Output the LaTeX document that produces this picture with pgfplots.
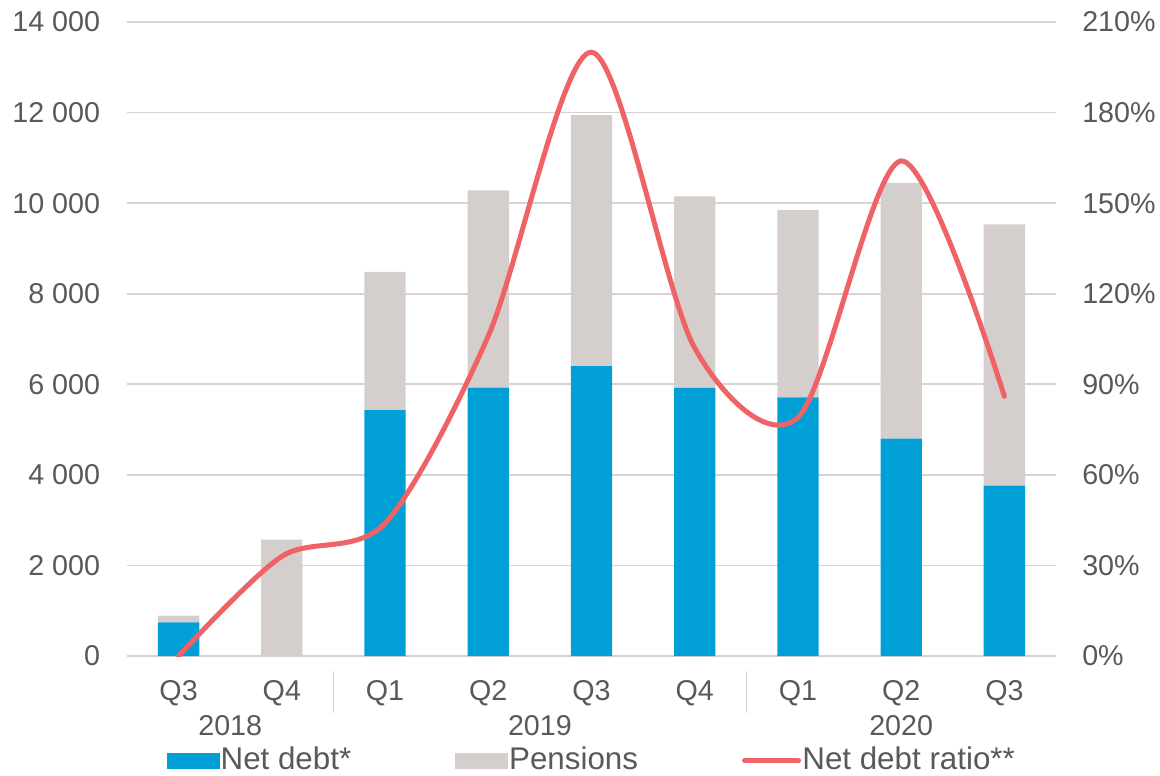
\documentclass[border=0pt]{standalone}
\usepackage{fontspec}
\setmainfont{Liberation Sans}
\usepackage{pgfplots}
\pgfplotsset{compat=1.18}
\definecolor{netblue}{RGB}{0,160,214}
\definecolor{pengrey}{RGB}{212,207,204}
\definecolor{ratiored}{RGB}{239,99,102}
\definecolor{txtgrey}{RGB}{89,89,89}
\definecolor{gridgrey}{RGB}{215,211,208}
\begin{document}
\fontsize{21.5}{26}\selectfont
\begin{tikzpicture}
\path[use as bounding box] (0pt,0pt) rectangle (870pt,581.25pt);
\begin{axis}[
  at={(95.25pt,89.25pt)}, anchor=south west,
  scale only axis, width=696.75pt, height=475.5pt,
  xmin=-0.5, xmax=8.5, ymin=0, ymax=14000,
  ybar stacked, bar width=0.4,
  axis line style={draw=none},
  scaled y ticks=false,
  ytick={0,2000,4000,6000,8000,10000,12000,14000},
  yticklabels={0,2 000,4 000,6 000,8 000,10 000,12 000,14 000},
  xtick={0,1,2,3,4,5,6,7,8},
  xticklabels={Q3,Q4,Q1,Q2,Q3,Q4,Q1,Q2,Q3},
  major tick length=0pt,
  tick label style={font=\fontsize{21.5}{26}\selectfont, text=txtgrey},
  yticklabel style={anchor=east, inner sep=0pt, xshift=-20pt},
  xticklabel style={anchor=north, inner sep=0pt, yshift=-18pt},
  ymajorgrids, grid style={gridgrey, line width=1.2pt},
  clip=false,
]
\addplot[fill=netblue, draw=none] coordinates {(0,740) (1,0) (2,5430) (3,5925) (4,6400) (5,5920) (6,5710) (7,4800) (8,3760)};
\addplot[fill=pengrey, draw=none] coordinates {(0,150) (1,2570) (2,3050) (3,4355) (4,5546) (5,4230) (6,4140) (7,5645) (8,5770)};
\node[text=txtgrey, inner sep=0pt] at (axis cs:0.5,0) [yshift=-52.5pt] {2018};
\node[text=txtgrey, inner sep=0pt] at (axis cs:3.5,0) [yshift=-52.5pt] {2019};
\node[text=txtgrey, inner sep=0pt] at (axis cs:7,0) [yshift=-52.5pt] {2020};
\draw[gridgrey, line width=1.2pt] (axis cs:1.5,0) ++(0pt,-11.25pt) -- ++(0pt,-31.5pt);
\draw[gridgrey, line width=1.2pt] (axis cs:5.5,0) ++(0pt,-11.25pt) -- ++(0pt,-31.5pt);
\end{axis}
\begin{axis}[
  at={(95.25pt,89.25pt)}, anchor=south west,
  scale only axis, width=696.75pt, height=475.5pt,
  xmin=-0.5, xmax=8.5, ymin=0, ymax=210,
  axis line style={draw=none},
  xtick=\empty,
  ytick={0,30,60,90,120,150,180,210},
  yticklabels={0\%,30\%,60\%,90\%,120\%,150\%,180\%,210\%},
  yticklabel pos=right,
  major tick length=0pt,
  tick label style={font=\fontsize{21.5}{26}\selectfont, text=txtgrey},
  yticklabel style={anchor=west, inner sep=0pt, xshift=19.5pt},
  legend columns=3,
  legend style={draw=none, fill=none, at={(0.5,0)}, anchor=center, yshift=-78.5pt,
    font=\fontsize{23.5}{28}\selectfont, text=txtgrey,
    nodes={inner sep=1pt},
    /tikz/every even column/.append style={column sep=77pt}},
]
\addlegendimage{legend image code/.code={\fill[netblue] (0pt,-5.8pt) rectangle (39pt,5.8pt);}}
\addlegendentry{Net debt*}
\addlegendimage{legend image code/.code={\fill[pengrey] (0pt,-5.8pt) rectangle (39pt,5.8pt);}}
\addlegendentry{Pensions}
\addplot[ratiored, line width=3.75pt, smooth, line cap=round,
  legend image code/.code={\draw[ratiored, line width=3.75pt] (0pt,0pt) -- (40.5pt,0pt);}]
  coordinates {(0,0) (1,33) (2,44) (3,106) (4,200) (5,102) (6,79) (7,164) (8,86)};
\addlegendentry{Net debt ratio**}
\end{axis}
\end{tikzpicture}
\end{document}
